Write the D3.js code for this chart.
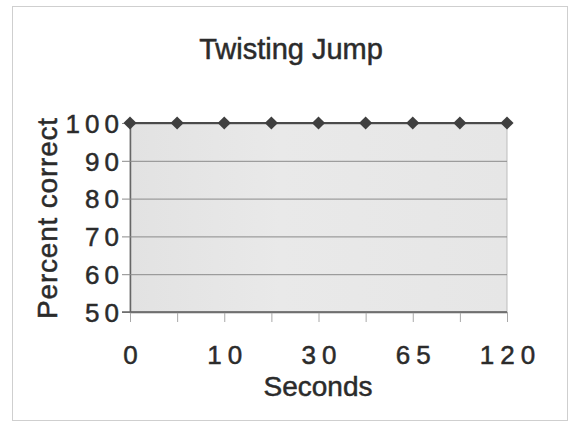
<!DOCTYPE html>
<html>
<head>
<meta charset="utf-8">
<title>Twisting Jump</title>
<script src="https://d3js.org/d3.v7.min.js"></script>
<style>
  body { margin: 0; background: #fff; }
  text { font-family: "Liberation Sans", Arial, sans-serif; fill: #2b2b2b; stroke: #2b2b2b; stroke-width: 0.5px; }
</style>
</head>
<body>
<div id="chart"></div>
<script>
// data
const seconds = ["0", "5", "10", "20", "30", "45", "65", "90", "120"];
const percentCorrect = [100, 100, 100, 100, 100, 100, 100, 100, 100];
const yTicks = [50, 60, 70, 80, 90, 100];
const shownLabels = ["0", "10", "30", "65", "120"];

const width = 571, height = 425;
const plot = { left: 130, right: 507, top: 123, bottom: 312 };

const svg = d3.select("#chart").append("svg")
    .attr("width", width)
    .attr("height", height);

// outer frame
svg.append("rect")
    .attr("x", 12.5).attr("y", 6.5)
    .attr("width", 555).attr("height", 414)
    .attr("fill", "#fff")
    .attr("stroke", "#cfcfcf");

const defs = svg.append("defs");
const grad = defs.append("linearGradient").attr("id", "bg");
grad.append("stop").attr("offset", "0%").attr("stop-color", "#e2e2e2");
grad.append("stop").attr("offset", "40%").attr("stop-color", "#e9e9e9");
grad.append("stop").attr("offset", "100%").attr("stop-color", "#e6e6e6");

// scales
const x = d3.scalePoint().domain(seconds).range([plot.left, plot.right]);
const y = d3.scaleLinear().domain([50, 100]).range([plot.bottom, plot.top]);

// plot background
svg.append("rect")
    .attr("x", plot.left).attr("y", plot.top)
    .attr("width", plot.right - plot.left)
    .attr("height", plot.bottom - plot.top)
    .attr("fill", "url(#bg)")
    .attr("stroke", "#bdbdbd");

// y axis: gridlines + ticks
const yAxis = d3.axisLeft(y)
    .tickValues(yTicks)
    .tickSize(-(plot.right - plot.left))
    .tickFormat(d3.format("d"));

const gy = svg.append("g")
    .attr("transform", `translate(${plot.left},0)`)
    .call(yAxis);
gy.select(".domain").attr("stroke", "#666").attr("stroke-width", 1.5);
gy.selectAll(".tick line").attr("stroke", "#8a8a8a").attr("x1", -8);
gy.selectAll(".tick text")
    .attr("x", -6)
    .attr("dy", "0.36em")
    .style("font-size", "26px")
    .style("letter-spacing", "5px");

// x axis
const xAxis = d3.axisBottom(x)
    .tickSize(10)
    .tickPadding(24)
    .tickFormat(d => shownLabels.includes(d) ? d : "");

const gx = svg.append("g")
    .attr("transform", `translate(0,${plot.bottom})`)
    .call(xAxis);
gx.select(".domain").remove();
gx.append("line")
    .attr("x1", plot.left - 8).attr("x2", plot.right)
    .attr("stroke", "#666").attr("stroke-width", 1.5);
gx.selectAll(".tick line").attr("stroke", "#a8a8a8");
gx.selectAll(".tick text")
    .attr("dy", "0.71em")
    .style("font-size", "26px")
    .style("letter-spacing", "6px")
    .attr("dx", "3px");

// line + markers
const line = d3.line()
    .x((d, i) => x(seconds[i]))
    .y(d => y(d));

svg.append("path")
    .datum(percentCorrect)
    .attr("d", line)
    .attr("fill", "none")
    .attr("stroke", "#4a4a4a")
    .attr("stroke-width", 2);

svg.selectAll(".pt")
    .data(percentCorrect)
    .enter().append("path")
    .attr("class", "pt")
    .attr("d", d3.symbol().type(d3.symbolDiamond2).size(110))
    .attr("transform", (d, i) => `translate(${x(seconds[i])},${y(d)})`)
    .attr("fill", "#3f3f3f");

// titles
svg.append("text")
    .attr("x", 291).attr("y", 59)
    .attr("text-anchor", "middle")
    .style("font-size", "29px")
    .text("Twisting Jump");

svg.append("text")
    .attr("x", 318).attr("y", 396)
    .attr("text-anchor", "middle")
    .style("font-size", "28px")
    .text("Seconds");

svg.append("text")
    .attr("transform", "translate(57,218) rotate(-90)")
    .attr("text-anchor", "middle")
    .style("font-size", "28px")
    .style("letter-spacing", "0.8px")
    .text("Percent correct");
</script>
</body>
</html>
